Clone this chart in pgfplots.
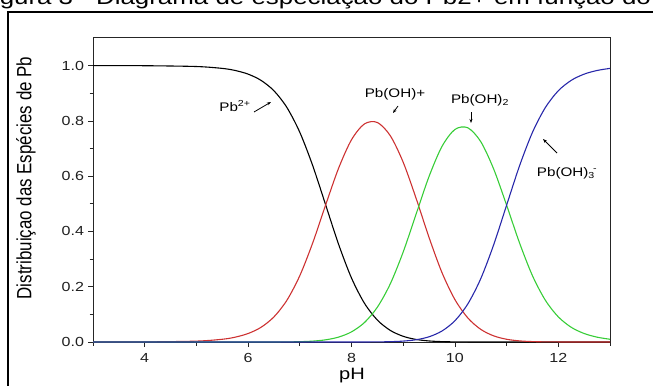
\documentclass[border=0pt]{standalone}
\usepackage{pgfplots}
\pgfplotsset{compat=1.18}
\usepackage{fontspec}
\setmainfont{Liberation Sans}[FakeStretch=1.22]
\newfontfamily\ylabfont{Liberation Sans}[FakeStretch=0.82]
\usetikzlibrary{arrows.meta}
\definecolor{cred}{RGB}{205,50,50}
\definecolor{cgreen}{RGB}{55,205,55}
\definecolor{cblue}{RGB}{40,40,170}
\begin{document}
\begin{tikzpicture}[x=1bp,y=1bp]
\useasboundingbox (0,0) rectangle (653,385);
% title (cropped at the top)
\node[anchor=base west, inner sep=0pt] at (-22,380.5) {\fontsize{21.3}{25}\selectfont Figura 3 - Diagrama de especiação do Pb2+ em função do pH};
% outer frame
\draw[line width=1.8bp] (8,-20) -- (8,373) -- (680,373);
\begin{axis}[
  at={(93bp,43bp)}, anchor=south west,
  scale only axis, width=517bp, height=304bp,
  xmin=3, xmax=13, ymin=0, ymax=1.1,
  xtick={4,6,8,10,12}, minor xtick={3,5,7,9,11,13},
  ytick={0,0.2,0.4,0.6,0.8,1.0}, minor ytick={0.1,0.3,0.5,0.7,0.9},
  tick align=outside, xtick pos=bottom, ytick pos=left,
  major tick length=5bp, minor tick length=3.5bp,
  tick style={black!85, line width=0.8bp},
  axis line style={black!85, line width=1bp},
  /pgf/number format/assume math mode=true,
  yticklabel style={/pgf/number format/fixed, /pgf/number format/fixed zerofill, /pgf/number format/precision=1, xshift=-0.5bp},
  xticklabel style={yshift=-2.5bp},
  ticklabel style={font=\fontsize{13.2}{15}\selectfont, text=black!88},
  every axis plot/.append style={line width=1.1bp, smooth},
]
\addplot[black] coordinates {
(3,1.0) (4,0.9997) (5,0.9968) (5.5,0.9900) (5.75,0.9825) (6,0.9693) (6.25,0.9467) (6.5,0.9090) (6.75,0.8487) (7,0.7588) (7.25,0.6380) (7.5,0.4961) (7.75,0.3536) (8,0.2314) (8.25,0.1403) (8.5,0.0794) (8.75,0.0420) (9,0.0206) (9.25,0.0092) (9.5,0.0038) (9.75,0.0014) (10,0.0005) (10.25,0.0002) (10.5,0.0001) (11,0) (12,0) (13,0)
};
\addplot[cred] coordinates {
(3,0) (4,0.0003) (5,0.0032) (5.5,0.0099) (5.75,0.0175) (6,0.0307) (6.25,0.0532) (6.5,0.0909) (6.75,0.1509) (7,0.2400) (7.25,0.3588) (7.5,0.4961) (7.75,0.6287) (8,0.7319) (8.25,0.7892) (8.5,0.7943) (8.75,0.7465) (9,0.6503) (9.25,0.5195) (9.5,0.3781) (9.75,0.2511) (10,0.1535) (10.25,0.0870) (10.5,0.0457) (10.75,0.0222) (11,0.0099) (11.25,0.0040) (11.5,0.0015) (11.75,0.0005) (12,0.0002) (12.5,0) (13,0)
};
\addplot[cgreen] coordinates {
(3,0) (5,0) (6,0) (6.5,0.0001) (6.75,0.0004) (7,0.0012) (7.25,0.0032) (7.5,0.0079) (7.75,0.0177) (8,0.0367) (8.25,0.0703) (8.5,0.1259) (8.75,0.2104) (9,0.3259) (9.25,0.4630) (9.5,0.5992) (9.75,0.7077) (10,0.7691) (10.25,0.7751) (10.5,0.7250) (10.75,0.6258) (11,0.4951) (11.25,0.3585) (11.5,0.2399) (11.75,0.1509) (12,0.0909) (12.25,0.0532) (12.5,0.0307) (12.75,0.0175) (13,0.0099)
};
\addplot[cblue] coordinates {
(3,0) (5,0) (7,0) (8,0) (8.25,0.0001) (8.5,0.0004) (8.75,0.0012) (9,0.0033) (9.25,0.0082) (9.5,0.0189) (9.75,0.0398) (10,0.0769) (10.25,0.1378) (10.5,0.2293) (10.75,0.3519) (11,0.4951) (11.25,0.6375) (11.5,0.7586) (11.75,0.8486) (12,0.9091) (12.25,0.9468) (12.5,0.9693) (12.75,0.9825) (13,0.9901)
};
\end{axis}
% axis labels
\node[rotate=90] at (26,207) {\ylabfont\fontsize{20.7}{24}\selectfont Distribuiçao das Espécies de Pb};
\node at (352,9) {\fontsize{16.5}{18}\selectfont pH};
% annotations
\node at (235,279) {\fontsize{12.5}{14}\selectfont Pb\textsuperscript{2+}};
\draw[-{Stealth[length=4bp,width=3bp]}, line width=0.8bp] (254,273) -- (271,283);
\node at (395,291) {\fontsize{12.5}{14}\selectfont Pb(OH)+};
\draw[-{Stealth[length=4bp,width=3bp]}, line width=0.8bp] (398,279) -- (393,272);
\node at (480,285) {\fontsize{12.5}{14}\selectfont Pb(OH)\textsubscript{2}};
\draw[-{Stealth[length=4bp,width=3bp]}, line width=0.8bp] (471,273) -- (471,262);
\node at (567,212) {\fontsize{12.5}{14}\selectfont Pb(OH)\textsubscript{3}\kern-0.15em\textsuperscript{-}};
\draw[-{Stealth[length=4bp,width=3bp]}, line width=0.8bp] (557,232) -- (543,246);
\end{tikzpicture}
\end{document}
